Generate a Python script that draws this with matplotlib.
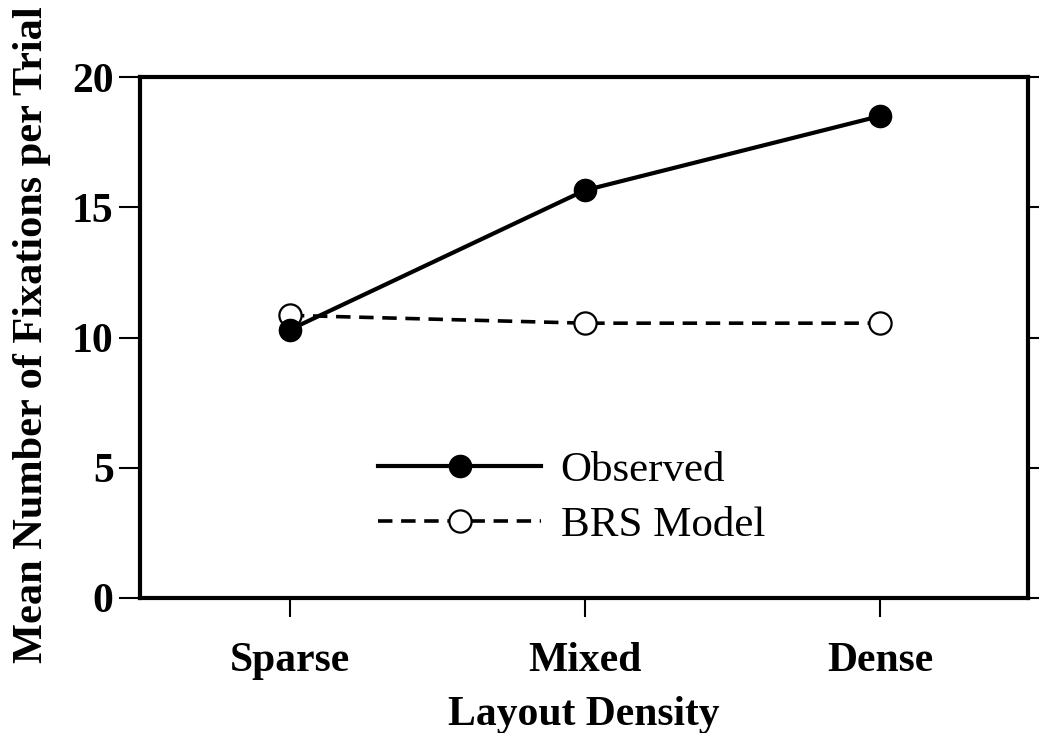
import matplotlib
matplotlib.use("Agg")
import matplotlib.pyplot as plt

categories = ["Sparse", "Mixed", "Dense"]
observed = [10.3, 15.65, 18.5]
brs_model = [10.85, 10.55, 10.55]
yticks = [0, 5, 10, 15, 20]

plt.rcParams['font.family'] = ['Liberation Serif', 'DejaVu Serif']

fig = plt.figure(figsize=(10.39, 7.33), dpi=100)
ax = fig.add_axes([140/1039, 1 - 598/733, (1028-140)/1039, (598-77)/733])

x = list(range(len(categories)))
ax.plot(x, brs_model, color='black', lw=2.6, ls=(0, (4, 2.4)), marker='o',
        ms=16, mfc='white', mec='black', mew=1.6, label='BRS Model', zorder=2)
ax.plot(x, observed, color='black', lw=3, marker='o', ms=16,
        mfc='black', mec='black', label='Observed', zorder=3)

ax.set_xlim(-0.508, 2.502)
ax.set_ylim(0, 20)
ax.set_xticks(x)
ax.set_xticklabels(categories, fontsize=30, fontweight='bold')
ax.set_yticks(yticks)
ax.set_yticklabels([str(v) for v in yticks], fontsize=30, fontweight='bold')
ax.tick_params(axis='x', direction='out', length=14, width=1.5, pad=18)
ax.tick_params(axis='y', direction='out', length=15, width=1.5, pad=4)

ax2 = ax.twinx()
ax2.set_ylim(0, 20)
ax2.set_yticks(yticks)
ax2.set_yticklabels([])
ax2.tick_params(axis='y', direction='out', length=9, width=1.5)
for s in ax2.spines.values():
    s.set_visible(False)

for s in ax.spines.values():
    s.set_linewidth(3)

ax.set_xlabel("Layout Density", fontsize=30, fontweight='bold', labelpad=11)
ax.set_ylabel("Mean Number of Fixations per Trial", fontsize=30.5,
              fontweight='bold')
ax.yaxis.set_label_coords((51-140)/888, (598-335)/521)

h, l = ax.get_legend_handles_labels()
leg = ax.legend(h[::-1], l[::-1], loc='center left',
                bbox_to_anchor=((339-140)/888, (598-498)/521),
                frameon=False, fontsize=31, handlelength=3.8,
                handletextpad=0.45, labelspacing=0.35)

fig.savefig("out.png", dpi=100)
